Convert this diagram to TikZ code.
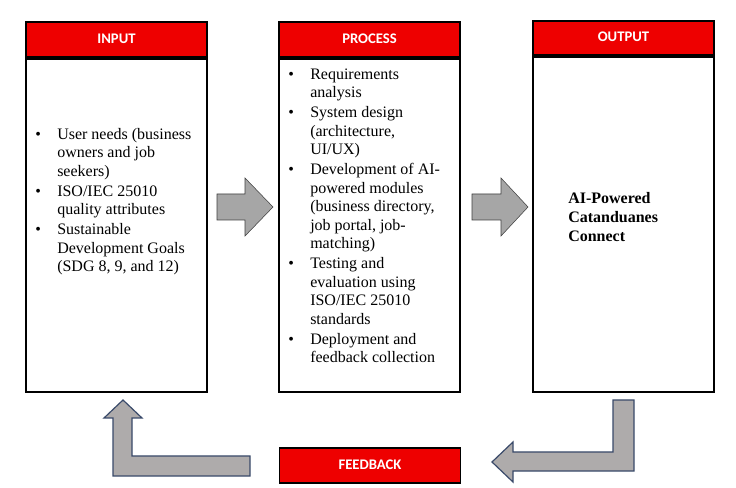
\documentclass[tikz,border=0pt]{standalone}
\usepackage{fontspec}
\setmainfont{Liberation Serif}
\newfontfamily\calibri{Carlito}
\usetikzlibrary{positioning}
\definecolor{rojo}{HTML}{EE0000}
\definecolor{grisA}{HTML}{A6A6A6}
\definecolor{grisB}{HTML}{AEABAB}
\definecolor{bordeB}{HTML}{3A4A6A}
\newcommand{\vineta}[1]{\makebox[16.5pt][l]{\strut\textbullet}\parbox[t]{130pt}{\fontsize{12}{13.9}\selectfont\strut #1\strut}\\}

\begin{document}
\begin{tikzpicture}[x=0.75pt, y=-0.75pt,
  font=\fontsize{12}{13.9}\selectfont,
  cab/.style={draw, line width=1.3pt, fill=rojo, text=white, font=\calibri\bfseries\fontsize{11}{13}\selectfont,
    minimum width=135.75pt, minimum height=26.25pt, inner sep=0pt},
  cuerpo/.style={draw, line width=1.3pt, minimum width=135.75pt, minimum height=249.75pt, anchor=north, inner sep=0pt},
  lista/.style={anchor=north west, inner sep=0pt, align=left},
  bloqueA/.style={draw=black!75, fill=grisA},
  bloqueB/.style={draw=bordeB, line width=0.9pt, fill=grisB}
]
  \useasboundingbox[fill=white] (0,0) rectangle (736,488);

  % --- input
  \node[cab] (input) at (116.5,39.5) {\raisebox{1.5pt}{INPUT}};
  \node[cuerpo] (inputBody) at (input.south) {};
  \node[lista] (inputList) at (35,126) {%
    \vineta{User needs (business\\owners and job\\seekers)}
    \vineta{ISO/IEC 25010\\quality attributes}
    \vineta{Sustainable\\Development Goals\\(SDG 8, 9, and 12)}};

  % --- process
  \node[cab] (process) at (369.5,39.5) {\raisebox{1.5pt}{PROCESS}};
  \node[cuerpo] (processBody) at (process.south) {};
  \node[lista] (processList) at (288,66) {%
    \vineta{Requirements\\analysis}
    \vineta{System design\\(architecture,\\UI/UX)}
    \vineta{Development of AI-\\powered modules\\(business directory,\\job portal, job-\\matching)}
    \vineta{Testing and\\evaluation using\\ISO/IEC 25010\\standards}
    \vineta{Deployment and\\feedback collection}};

  % --- output
  \node[cab, minimum height=25.5pt] (output) at (623.5,38) {\raisebox{1.5pt}{OUTPUT}};
  \node[cuerpo, minimum height=251.25pt] (outputBody) at (output.south) {};
  \node[anchor=north west, inner sep=0pt, align=left, font=\bfseries\fontsize{12}{14.2}\selectfont]
        (result) at (568,192) {AI-Powered\\Catanduanes\\Connect};

  % --- feedback
  \node[cab] (feedback) at (370,465.5) {\raisebox{1.5pt}{FEEDBACK}};

  % flechas de bloque
  \draw[bloqueA] (217,194) -- (245,194) -- (245,178) -- (273,207) -- (245,236) -- (245,220) -- (217,220) -- cycle;
  \draw[bloqueA] (472,194) -- (501,194) -- (501,178) -- (528,207) -- (501,236) -- (501,220) -- (472,220) -- cycle;
  % retorno
  \draw[bloqueB] (613,400) -- (634,400) -- (634,471) -- (513,471) -- (513,482) -- (492,462) -- (513,442)
        -- (513,452) -- (613,452) -- cycle;
  \draw[bloqueB] (123,400) -- (142,418) -- (132,418) -- (132,456) -- (250,456) -- (250,476) -- (113,476)
        -- (113,418) -- (104,418) -- cycle;
\end{tikzpicture}
\end{document}
